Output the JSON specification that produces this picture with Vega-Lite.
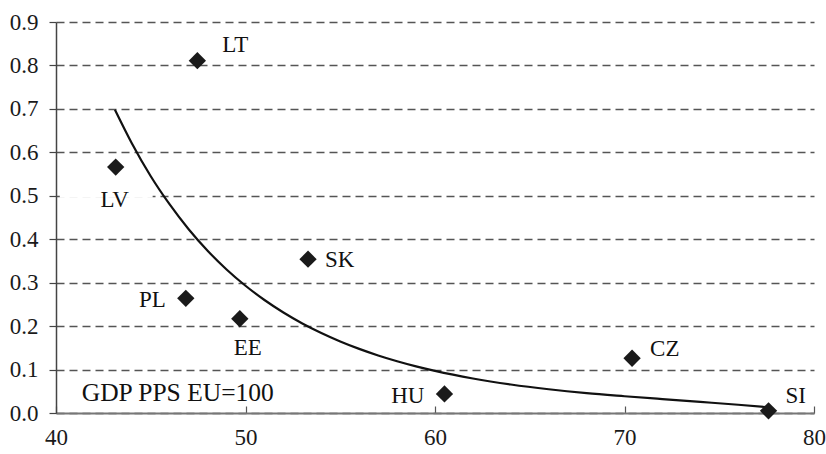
{
  "$schema": "https://vega.github.io/schema/vega-lite/v6.json",
  "width": 758,
  "height": 391,
  "autosize": "none",
  "padding": {"left": 56, "top": 22, "right": 12, "bottom": 41},
  "background": "white",
  "config": {"view": {"stroke": null}},
  "datasets": {
    "pts": [
      {"c": "LT", "gdp": 47.46, "v": 0.811},
      {"c": "LV", "gdp": 43.15, "v": 0.566},
      {"c": "SK", "gdp": 53.3, "v": 0.354},
      {"c": "PL", "gdp": 46.85, "v": 0.264},
      {"c": "EE", "gdp": 49.7, "v": 0.217},
      {"c": "CZ", "gdp": 70.4, "v": 0.126},
      {"c": "HU", "gdp": 60.5, "v": 0.044},
      {"c": "SI", "gdp": 77.6, "v": 0.005}
    ],
    "curve": [
      {"gdp": 43.11, "v": 0.698},
      {"gdp": 44, "v": 0.621},
      {"gdp": 45, "v": 0.545},
      {"gdp": 46, "v": 0.48},
      {"gdp": 47, "v": 0.423},
      {"gdp": 48, "v": 0.3735},
      {"gdp": 49, "v": 0.3304},
      {"gdp": 50, "v": 0.2929},
      {"gdp": 51, "v": 0.2601},
      {"gdp": 52, "v": 0.2314},
      {"gdp": 53, "v": 0.2062},
      {"gdp": 54, "v": 0.1842},
      {"gdp": 55, "v": 0.1647},
      {"gdp": 56, "v": 0.1476},
      {"gdp": 57, "v": 0.1325},
      {"gdp": 58, "v": 0.1192},
      {"gdp": 59, "v": 0.1074},
      {"gdp": 60, "v": 0.097},
      {"gdp": 62, "v": 0.0795},
      {"gdp": 64, "v": 0.0656},
      {"gdp": 66, "v": 0.0546},
      {"gdp": 68, "v": 0.0457},
      {"gdp": 70, "v": 0.0386},
      {"gdp": 72, "v": 0.032},
      {"gdp": 74, "v": 0.0255},
      {"gdp": 76, "v": 0.019},
      {"gdp": 77.5, "v": 0.0135}
    ]
  },
  "layer": [
    {
      "data": {"name": "curve"},
      "mark": {"type": "line", "color": "#111", "strokeWidth": 2.2, "interpolate": "monotone"},
      "encoding": {
        "x": {
          "field": "gdp", "type": "quantitative",
          "scale": {"domain": [40, 80], "nice": false, "zero": false},
          "axis": {
            "values": [40, 50, 60, 70, 80], "grid": false, "title": null,
            "tickSize": -7, "tickColor": "#555", "tickWidth": 1.2,
            "domainColor": "#777", "domainWidth": 2,
            "labelFontSize": 23, "labelColor": "#1a1a1a", "labelPadding": 20,
            "labelFlush": false,
            "labelFont": "Liberation Serif"
          }
        },
        "y": {
          "field": "v", "type": "quantitative",
          "scale": {"domain": [0, 0.9], "nice": false},
          "axis": {
            "values": [0, 0.1, 0.2, 0.3, 0.4, 0.5, 0.6, 0.7, 0.8, 0.9],
            "format": ".1f", "title": null,
            "grid": true, "gridDash": [8, 5], "gridColor": "#555", "gridWidth": 1.3,
            "tickSize": 7, "tickColor": "#444", "tickWidth": 1.2,
            "domainColor": "#444", "domainWidth": 1.5,
            "labelFontSize": 23, "labelColor": "#1a1a1a", "labelPadding": 11,
            "labelFlush": false,
            "labelFont": "Liberation Serif"
          }
        }
      }
    },
    {
      "data": {"values": [{"a": 40.2, "b": 45.1, "v": 0.5}]},
      "mark": {"type": "rule", "color": "white", "strokeWidth": 4},
      "encoding": {
        "x": {"field": "a", "type": "quantitative"},
        "x2": {"field": "b"},
        "y": {"field": "v", "type": "quantitative"}
      }
    },
    {
      "data": {"name": "pts"},
      "mark": {"type": "point", "shape": "diamond", "filled": true, "size": 300, "color": "#1a1a1a", "opacity": 1},
      "encoding": {
        "x": {"field": "gdp", "type": "quantitative"},
        "y": {"field": "v", "type": "quantitative"}
      }
    },
    {
      "data": {"name": "pts"},
      "transform": [{"filter": "datum.c == 'LT'"}],
      "mark": {"type": "text", "font": "Liberation Serif", "fontSize": 23, "color": "#111", "align": "left", "baseline": "middle", "dx": 25, "dy": -16},
      "encoding": {"x": {"field": "gdp", "type": "quantitative"}, "y": {"field": "v", "type": "quantitative"}, "text": {"field": "c"}}
    },
    {
      "data": {"name": "pts"},
      "transform": [{"filter": "datum.c == 'SK'"}],
      "mark": {"type": "text", "font": "Liberation Serif", "fontSize": 23, "color": "#111", "align": "left", "baseline": "middle", "dx": 17, "dy": 1},
      "encoding": {"x": {"field": "gdp", "type": "quantitative"}, "y": {"field": "v", "type": "quantitative"}, "text": {"field": "c"}}
    },
    {
      "data": {"name": "pts"},
      "transform": [{"filter": "datum.c == 'CZ'"}],
      "mark": {"type": "text", "font": "Liberation Serif", "fontSize": 23, "color": "#111", "align": "left", "baseline": "middle", "dx": 18, "dy": -9},
      "encoding": {"x": {"field": "gdp", "type": "quantitative"}, "y": {"field": "v", "type": "quantitative"}, "text": {"field": "c"}}
    },
    {
      "data": {"name": "pts"},
      "transform": [{"filter": "datum.c == 'SI'"}],
      "mark": {"type": "text", "font": "Liberation Serif", "fontSize": 23, "color": "#111", "align": "left", "baseline": "middle", "dx": 17, "dy": -15},
      "encoding": {"x": {"field": "gdp", "type": "quantitative"}, "y": {"field": "v", "type": "quantitative"}, "text": {"field": "c"}}
    },
    {
      "data": {"name": "pts"},
      "transform": [{"filter": "datum.c == 'PL' || datum.c == 'HU'"}],
      "mark": {"type": "text", "font": "Liberation Serif", "fontSize": 23, "color": "#111", "align": "right", "baseline": "middle", "dx": -20, "dy": 2},
      "encoding": {"x": {"field": "gdp", "type": "quantitative"}, "y": {"field": "v", "type": "quantitative"}, "text": {"field": "c"}}
    },
    {
      "data": {"name": "pts"},
      "transform": [{"filter": "datum.c == 'LV'"}],
      "mark": {"type": "text", "font": "Liberation Serif", "fontSize": 23, "color": "#111", "align": "center", "baseline": "middle", "dx": -1, "dy": 33},
      "encoding": {"x": {"field": "gdp", "type": "quantitative"}, "y": {"field": "v", "type": "quantitative"}, "text": {"field": "c"}}
    },
    {
      "data": {"name": "pts"},
      "transform": [{"filter": "datum.c == 'EE'"}],
      "mark": {"type": "text", "font": "Liberation Serif", "fontSize": 23, "color": "#111", "align": "center", "baseline": "middle", "dx": 8, "dy": 29},
      "encoding": {"x": {"field": "gdp", "type": "quantitative"}, "y": {"field": "v", "type": "quantitative"}, "text": {"field": "c"}}
    },
    {
      "data": {"values": [{"t": "GDP PPS EU=100", "gdp": 41.36, "v": 0.047}]},
      "mark": {"type": "text", "font": "Liberation Serif", "fontSize": 25.5, "color": "#111", "align": "left", "baseline": "middle"},
      "encoding": {
        "x": {"field": "gdp", "type": "quantitative"},
        "y": {"field": "v", "type": "quantitative"},
        "text": {"field": "t"}
      }
    }
  ]
}
